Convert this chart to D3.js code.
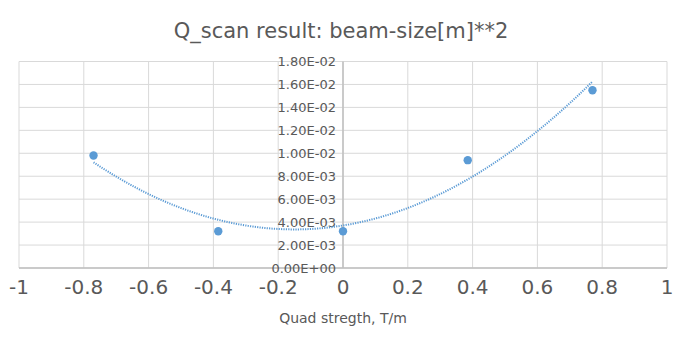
<!DOCTYPE html>
<html>
<head>
<meta charset="utf-8">
<script src="https://cdn.jsdelivr.net/npm/d3@7"></script>
<style>
  html, body { margin: 0; padding: 0; background: #fff; }
  svg text { font-family: "DejaVu Sans", sans-serif; fill: #595959; }
</style>
</head>
<body>
<svg id="chart" width="685" height="343"></svg>
<script>
// Quadrupole strength scan: measured beam size squared
const quadStrength = [-0.77, -0.385, 0, 0.385, 0.77];
const beamSize2 = [0.0098, 0.0032, 0.0032, 0.0094, 0.0155];
const xTicks = [-1, -0.8, -0.6, -0.4, -0.2, 0, 0.2, 0.4, 0.6, 0.8, 1];
const yTicks = [0, 0.002, 0.004, 0.006, 0.008, 0.01, 0.012, 0.014, 0.016, 0.018];

const svg = d3.select("#chart");
const x = d3.scaleLinear().domain([-1, 1]).range([19, 667]);
const y = d3.scaleLinear().domain([0, 0.018]).range([268, 61.5]);

// Least-squares second-order polynomial trendline
function polyFit2(xs, ys) {
  const s = [0, 0, 0, 0, 0], t = [0, 0, 0];
  xs.forEach((xi, i) => {
    let p = 1;
    for (let k = 0; k < 5; k++) { s[k] += p; if (k < 3) t[k] += p * ys[i]; p *= xi; }
  });
  const A = [[s[0], s[1], s[2], t[0]], [s[1], s[2], s[3], t[1]], [s[2], s[3], s[4], t[2]]];
  for (let i = 0; i < 3; i++) {
    for (let j = i + 1; j < 3; j++) {
      const f = A[j][i] / A[i][i];
      for (let k = i; k < 4; k++) A[j][k] -= f * A[i][k];
    }
  }
  const c = [0, 0, 0];
  for (let i = 2; i >= 0; i--) {
    let v = A[i][3];
    for (let k = i + 1; k < 3; k++) v -= A[i][k] * c[k];
    c[i] = v / A[i][i];
  }
  return c;
}
const coef = polyFit2(quadStrength, beamSize2);
const xMin = d3.min(quadStrength), xMax = d3.max(quadStrength);
const trend = d3.range(0, 101).map(i => {
  const xv = xMin + (xMax - xMin) * i / 100;
  return [xv, coef[0] + coef[1] * xv + coef[2] * xv * xv];
});

// Gridlines
svg.append("g").selectAll("line").data(xTicks).join("line")
  .attr("x1", d => x(d)).attr("x2", d => x(d))
  .attr("y1", y(0.018)).attr("y2", y(0))
  .attr("stroke", "#d9d9d9").attr("stroke-width", 1);
svg.append("g").selectAll("line").data(yTicks).join("line")
  .attr("x1", x(-1)).attr("x2", x(1))
  .attr("y1", d => y(d)).attr("y2", d => y(d))
  .attr("stroke", "#d9d9d9").attr("stroke-width", 1);

// Axis lines through the origin
svg.append("line").attr("x1", x(0)).attr("x2", x(0)).attr("y1", y(0.018)).attr("y2", y(0))
  .attr("stroke", "#bfbfbf").attr("stroke-width", 1.5);
svg.append("line").attr("x1", x(-1)).attr("x2", x(1)).attr("y1", y(0)).attr("y2", y(0))
  .attr("stroke", "#bfbfbf").attr("stroke-width", 1.5);

// Y tick labels, placed beside the zero axis
svg.append("g").selectAll("text").data(yTicks).join("text")
  .attr("x", x(0) - 7).attr("y", d => y(d)).attr("dy", "0.38em")
  .attr("text-anchor", "end").attr("font-size", 13)
  .text(d => {
    const [m, e] = d.toExponential(2).split("e");
    const ev = +e;
    return m.toUpperCase() + "E" + (ev < 0 ? "-" : "+") + String(Math.abs(ev)).padStart(2, "0");
  });

// X tick labels
svg.append("g").selectAll("text").data(xTicks).join("text")
  .attr("x", d => x(d)).attr("y", 294)
  .attr("text-anchor", "middle").attr("font-size", 20)
  .text(d => d3.format("")(d).replace("−", "-"));

// Trendline
svg.append("path").datum(trend)
  .attr("d", d3.line().x(d => x(d[0])).y(d => y(d[1])))
  .attr("fill", "none").attr("stroke", "#5b9bd5").attr("stroke-width", 2)
  .attr("stroke-dasharray", "1.2,1.2");

// Data points
svg.append("g").selectAll("circle").data(quadStrength).join("circle")
  .attr("cx", d => x(d)).attr("cy", (d, i) => y(beamSize2[i])).attr("r", 4.2)
  .attr("fill", "#5b9bd5");

// Titles
svg.append("text").attr("x", 341).attr("y", 38).attr("text-anchor", "middle")
  .attr("font-size", 21).text("Q_scan result: beam-size[m]**2");
svg.append("text").attr("x", 343).attr("y", 323).attr("text-anchor", "middle")
  .attr("font-size", 14).text("Quad stregth, T/m");
</script>
</body>
</html>
